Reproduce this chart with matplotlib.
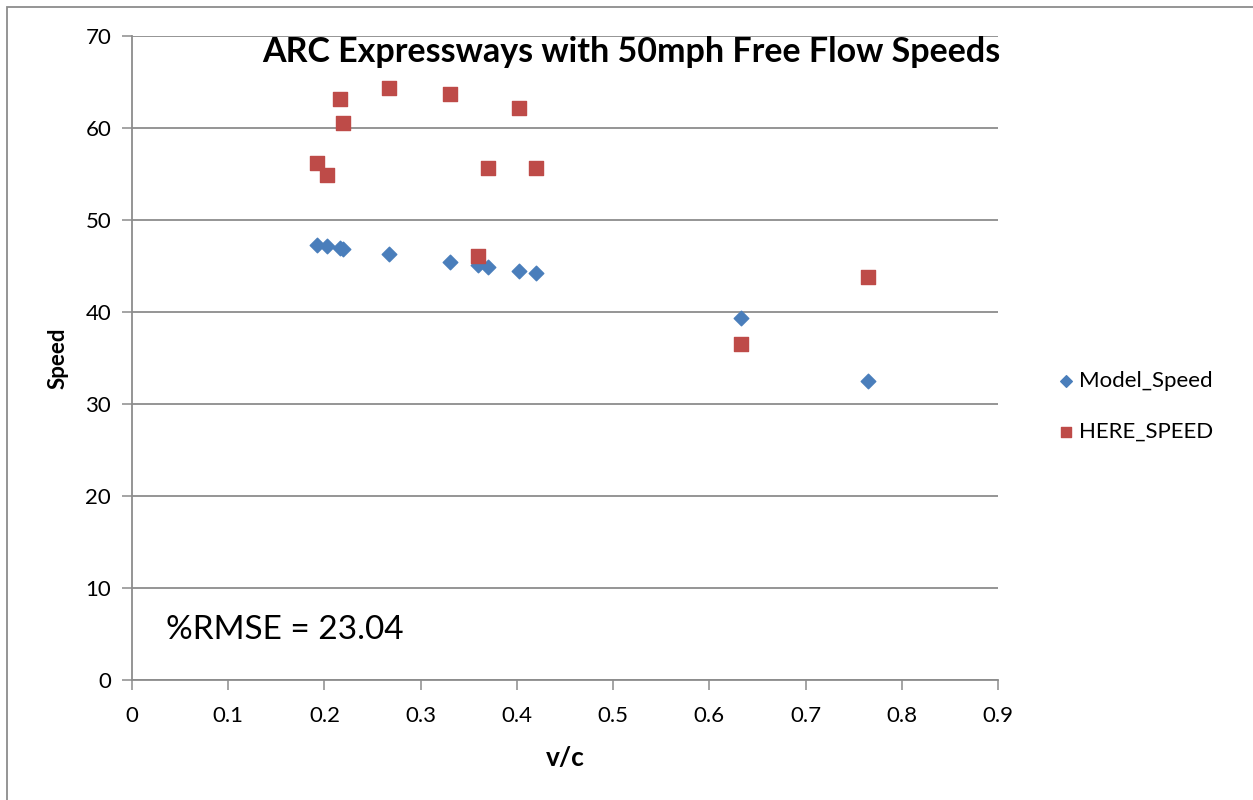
import matplotlib
matplotlib.use("Agg")
import matplotlib.pyplot as plt
from matplotlib.patches import Rectangle

plt.rcParams['font.family'] = ['Lato', 'DejaVu Sans']

vc = [0.192, 0.203, 0.216, 0.219, 0.267, 0.330, 0.360, 0.370, 0.402, 0.420, 0.633, 0.765]
model_speed = [47.3, 47.2, 47.0, 46.9, 46.3, 45.4, 45.1, 44.9, 44.5, 44.2, 39.3, 32.5]
here_speed = [56.2, 54.9, 63.1, 60.5, 64.4, 63.7, 46.1, 55.7, 62.2, 55.7, 36.5, 43.8]

fig = plt.figure(figsize=(12.53, 8), dpi=100)
ax = fig.add_axes([132/1253, 1 - 680/800, (998-132)/1253, (680-36)/800])

ax.scatter(vc, model_speed, marker='D', s=55, color='#4a7ebb', label='Model_Speed', zorder=3)
ax.scatter(vc, here_speed, marker='s', s=95, color='#be4b48', label='HERE_SPEED', zorder=3)

ax.set_xlim(0, 0.9)
ax.set_ylim(0, 70)
ax.set_xticks([i / 10 for i in range(10)])
ax.set_xticklabels(['0'] + ['%.1f' % (i / 10) for i in range(1, 10)])
ax.set_yticks(range(0, 71, 10))
ax.yaxis.grid(True, color='#8c8c8c', linewidth=1.3)
ax.set_axisbelow(True)
for s in ['top', 'right']:
    ax.spines[s].set_visible(False)
for s in ['left', 'bottom']:
    ax.spines[s].set_color('#8c8c8c')
    ax.spines[s].set_linewidth(1.3)
ax.tick_params(axis='both', direction='out', length=7, color='#8c8c8c', width=1.1,
               labelsize=16)
ax.tick_params(axis='x', pad=12)
ax.tick_params(axis='y', pad=8)
ax.set_xlabel('v/c', fontsize=19, fontweight='bold', labelpad=14)
ax.set_ylabel('Speed', fontsize=16, fontweight='bold', labelpad=12)

fig.text(631/1253, 1 - 52/800, 'ARC Expressways with 50mph Free Flow Speeds',
         fontsize=24.5, fontweight='bold', ha='center', va='center')
ax.text(0.035, 5.4, '%RMSE = 23.04', fontsize=24, ha='left', va='center')

leg = ax.legend(loc='center left', bbox_to_anchor=(1.04, 0.425), frameon=False,
                fontsize=16, handletextpad=0.0, handlelength=1.2,
                labelspacing=1.4, markerscale=0.8)

fig.patches.append(Rectangle((7/1253, -0.1), 2, 1 - 7/800 + 0.1, transform=fig.transFigure,
                             fill=False, edgecolor='#8c8c8c', linewidth=1.3))

fig.savefig('out.png', dpi=100)
